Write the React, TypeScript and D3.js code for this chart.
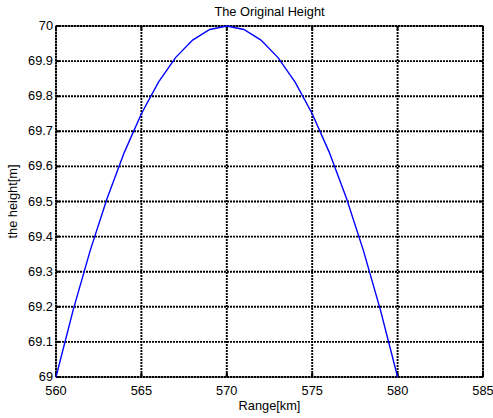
import React from "react";
import * as d3 from "d3";

const rangeKm = [560, 561, 562, 563, 564, 565, 566, 567, 568, 569, 570, 571, 572, 573, 574, 575, 576, 577, 578, 579, 580];
const heightM = [69.0, 69.19, 69.36, 69.51, 69.64, 69.75, 69.84, 69.91, 69.96, 69.99, 70.0, 69.99, 69.96, 69.91, 69.84, 69.75, 69.64, 69.51, 69.36, 69.19, 69.0];
const xTicks = [560, 565, 570, 575, 580, 585];
const yTicks = [69, 69.1, 69.2, 69.3, 69.4, 69.5, 69.6, 69.7, 69.8, 69.9, 70];

export default function App() {
  const W = 493, H = 418;
  const L = 56, R = 483, T = 26, B = 377;
  const x = d3.scaleLinear().domain([560, 585]).range([L, R]);
  const y = d3.scaleLinear().domain([69, 70]).range([B, T]);
  const line = d3.line<number>().x((_, i) => x(rangeKm[i])).y((d) => y(d));
  const font = "Liberation Sans, Arial, Helvetica, sans-serif";
  const fs = 12.8;
  const grid = { stroke: "#000", strokeWidth: 1.9, strokeDasharray: "2,1" };
  return (
    <svg width={W} height={H} style={{ position: "absolute", left: 0, top: 0 }}>
      <rect x={0} y={0} width={W} height={H} fill="#fff" />
      {xTicks.map((t) => (
        <line key={"gx" + t} x1={x(t)} x2={x(t)} y1={T} y2={B} {...grid} />
      ))}
      {yTicks.map((t) => (
        <line key={"gy" + t} x1={L} x2={R} y1={y(t)} y2={y(t)} {...grid} />
      ))}
      <rect x={L} y={T} width={R - L} height={B - T} fill="none" stroke="#000" strokeWidth={1} />
      {xTicks.map((t) => (
        <g key={"tx" + t}>
          <line x1={x(t)} x2={x(t)} y1={B} y2={B - 4} stroke="#000" strokeWidth={2} />
          <line x1={x(t)} x2={x(t)} y1={T} y2={T + 4} stroke="#000" strokeWidth={2} />
        </g>
      ))}
      {yTicks.map((t) => (
        <g key={"ty" + t}>
          <line x1={L} x2={L + 4} y1={y(t)} y2={y(t)} stroke="#000" strokeWidth={2} />
          <line x1={R} x2={R - 4} y1={y(t)} y2={y(t)} stroke="#000" strokeWidth={2} />
        </g>
      ))}
      <path d={line(heightM) || ""} fill="none" stroke="#0000ff" strokeWidth={1.4} />
      {xTicks.map((t) => (
        <text key={"lx" + t} x={x(t)} y={395} textAnchor="middle" fontFamily={font} fontSize={fs} fill="#000">
          {t}
        </text>
      ))}
      {yTicks.map((t) => (
        <text key={"ly" + t} x={53} y={y(t) + 4} textAnchor="end" fontFamily={font} fontSize={fs} fill="#000">
          {d3.format("~g")(t)}
        </text>
      ))}
      <text x={(L + R) / 2} y={16} textAnchor="middle" fontFamily={font} fontSize={fs} fill="#000">
        The Original Height
      </text>
      <text x={(L + R) / 2} y={410} textAnchor="middle" fontFamily={font} fontSize={fs} fill="#000">
        Range[km]
      </text>
      <text
        transform={`translate(17,${(T + B) / 2}) rotate(-90)`}
        textAnchor="middle"
        fontFamily={font}
        fontSize={fs}
        fill="#000"
      >
        the height[m]
      </text>
    </svg>
  );
}
